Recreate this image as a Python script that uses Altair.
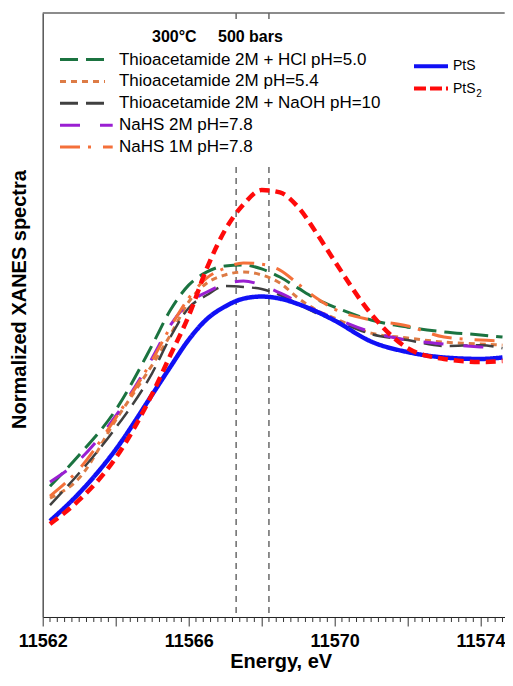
import altair as alt
import pandas as pd

# ---------------- data ----------------
energy = [11562.2, 11563, 11564, 11565, 11565.5, 11566, 11566.5, 11567, 11567.5,
          11568, 11568.5, 11569, 11569.5, 11570, 11571, 11572, 11573, 11574, 11574.6]

thio_hcl = [0.453, 0.557, 0.707, 0.923, 1.040, 1.123, 1.167, 1.187, 1.190, 1.177,
            1.150, 1.113, 1.077, 1.050, 1.007, 0.983, 0.967, 0.957, 0.950]
thio_54 = [0.413, 0.480, 0.673, 0.857, 0.957, 1.067, 1.130, 1.157, 1.167, 1.157,
           1.130, 1.080, 1.040, 1.013, 0.963, 0.947, 0.933, 0.927, 0.923]
thio_naoh = [0.390, 0.497, 0.647, 0.830, 0.950, 1.047, 1.090, 1.120, 1.117, 1.110,
             1.090, 1.060, 1.030, 1.007, 0.960, 0.940, 0.920, 0.923, 0.913]
nahs_2m = [0.467, 0.540, 0.687, 0.880, 0.990, 1.063, 1.100, 1.127, 1.137, 1.123,
           1.097, 1.067, 1.037, 1.013, 0.967, 0.940, 0.927, 0.917, 0.913]
nahs_1m = [0.420, 0.510, 0.680, 0.873, 0.983, 1.080, 1.147, 1.180, 1.197, 1.193,
           1.173, 1.127, 1.080, 1.043, 1.007, 0.987, 0.950, 0.940, 0.937]
pts = [0.337, 0.430, 0.575, 0.758, 0.851, 0.941, 1.010, 1.052, 1.078, 1.085,
       1.078, 1.060, 1.035, 1.005, 0.935, 0.900, 0.882, 0.877, 0.882]
pts2 = [0.327, 0.407, 0.547, 0.760, 0.890, 1.020, 1.180, 1.307, 1.392, 1.440,
        1.432, 1.383, 1.297, 1.203, 1.027, 0.913, 0.877, 0.867, 0.870]

series_names = ["Thioacetamide 2M + HCl pH=5.0", "Thioacetamide 2M pH=5.4",
                "Thioacetamide 2M + NaOH pH=10", "NaHS 2M pH=7.8", "NaHS 1M pH=7.8",
                "PtS", "PtS2"]
series_values = [thio_hcl, thio_54, thio_naoh, nahs_2m, nahs_1m, pts, pts2]

peak_lines = [11567.3, 11568.2]
major_ticks = [11562, 11564, 11566, 11568, 11570, 11572, 11574]
header_texts = ["300°C", "500 bars"]

# ---------------- styles ----------------
FONT = "Liberation Sans"
styles = {
    "Thioacetamide 2M + HCl pH=5.0": dict(color="#1b7340", dash=[18, 8], sw=3),
    "Thioacetamide 2M pH=5.4": dict(color="#dd7b45", dash=[6, 5], sw=3),
    "Thioacetamide 2M + NaOH pH=10": dict(color="#404040", dash=[18, 8], sw=2.5),
    "NaHS 2M pH=7.8": dict(color="#9a1fd2", dash=[20, 20], sw=3),
    "NaHS 1M pH=7.8": dict(color="#f4703a", dash=[20, 8, 3, 12], sw=3),
    "PtS": dict(color="#1010f5", dash=[1, 0], sw=4.5),
    "PtS2": dict(color="#ff0a0a", dash=[10, 6], sw=4.5),
}

W, H = 462, 604
x_min, x_max = 11562, 11574.66
y_min, y_max = 0.017, 2.03

rows = []
for name, vals in zip(series_names, series_values):
    for e, v in zip(energy, vals):
        rows.append({"series": name, "energy": e, "value": v})
df = pd.DataFrame(rows)
one = pd.DataFrame({"k": [0]})

minor = [round(x_min + 0.2 * i, 1) for i in range(65)]
minor = [m for m in minor if abs(m - round(m / 2) * 2) > 1e-6 and m <= x_max]

xscale = alt.Scale(domain=[x_min, x_max], nice=False, zero=False)
yscale = alt.Scale(domain=[y_min, y_max], nice=False, zero=False)

x_axis = alt.Axis(
    values=major_ticks, format="d",
    labelExpr="datum.value % 4 == 2 ? datum.label : ''",
    labelFont=FONT, labelFontSize=18, labelFontWeight="bold", labelColor="black",
    labelBaseline="alphabetic", labelPadding=21, labelFlush=False, labelOverlap=False,
    tickSize=9, tickColor="#333", tickWidth=1,
    domainColor="#222", domainWidth=1, grid=False,
    title="Energy, eV", titleFont=FONT, titleFontSize=20, titleFontWeight="bold",
    titleColor="black", titleX=238, titleY=51, titleBaseline="alphabetic",
    titleAlign="center", titleAnchor="start",
)
y_axis = alt.Axis(
    labels=False, ticks=False, grid=False, domainColor="#555", domainWidth=1.5,
    title="Normalized XANES spectra", titleFont=FONT, titleFontSize=20,
    titleFontWeight="bold", titleColor="black", titleAngle=270,
    titleX=-17, titleY=286, titleBaseline="alphabetic", titleAlign="center",
)


def X(field):
    return alt.X(field, scale=xscale, axis=x_axis, title="Energy, eV")


def Y(field):
    return alt.Y(field, scale=yscale, axis=y_axis, title="Normalized XANES spectra")


curve_layers = []
for name in series_names:
    st = styles[name]
    curve_layers.append(
        alt.Chart(df)
        .transform_filter(alt.datum.series == name)
        .mark_line(color=st["color"], strokeDash=st["dash"], strokeWidth=st["sw"],
                   interpolate="monotone")
        .encode(x=X("energy:Q"), y=Y("value:Q"))
    )

# vertical dashed marker lines
peaks_layer = (
    alt.Chart(pd.DataFrame({"energy": peak_lines}))
    .mark_rule(color="#444", strokeDash=[6, 5], strokeWidth=1.2)
    .encode(x=X("energy:Q"))
)
# white box behind the legend
box_layer = (
    alt.Chart(one).mark_rect(color="white")
    .encode(x=alt.value(7), x2=alt.value(337), y=alt.value(9), y2=alt.value(151))
)
layers = [peaks_layer, box_layer] + curve_layers

# minor ticks every 0.2 eV
layers.append(
    alt.Chart(pd.DataFrame({"energy": minor}))
    .mark_rule(color="#333", strokeWidth=1)
    .encode(x=X("energy:Q"), y=alt.value(H), y2=alt.value(H + 5))
)

# top border
layers.append(
    alt.Chart(one).mark_rule(color="#666", strokeWidth=1.5)
    .encode(x=alt.value(0), x2=alt.value(W), y=alt.value(0))
)

# legend header
for txt, xp in zip(header_texts, [109.3, 175.3]):
    layers.append(
        alt.Chart(one).mark_text(text=txt, font=FONT, fontSize=16, fontWeight="bold",
                                 align="left", baseline="middle", color="black")
        .encode(x=alt.value(xp), y=alt.value(23.5))
    )

# left legend block
sample_end = {"NaHS 2M pH=7.8": 70, "NaHS 1M pH=7.8": 70}
for i, name in enumerate(series_names[:5]):
    st = styles[name]
    yp = 46.5 + i * 21.9
    layers.append(
        alt.Chart(one).mark_rule(color=st["color"], strokeDash=st["dash"], strokeWidth=3)
        .encode(x=alt.value(17.3), x2=alt.value(sample_end.get(name, 62.3)), y=alt.value(yp))
    )
    layers.append(
        alt.Chart(one).mark_text(text=name, font=FONT, fontSize=17, align="left",
                                 baseline="middle", color="black")
        .encode(x=alt.value(76.3), y=alt.value(yp))
    )

# right legend block
for name, yp, dash in [("PtS", 53.2, [1, 0]), ("PtS2", 75.5, [12, 4])]:
    st = styles[name]
    layers.append(
        alt.Chart(one).mark_rule(color=st["color"], strokeDash=dash, strokeWidth=4)
        .encode(x=alt.value(371.3), x2=alt.value(405.3), y=alt.value(yp))
    )
    layers.append(
        alt.Chart(one).mark_text(text="PtS", font=FONT, fontSize=14, align="left",
                                 baseline="middle", color="black")
        .encode(x=alt.value(410.3), y=alt.value(yp))
    )
layers.append(
    alt.Chart(one).mark_text(text="2", font=FONT, fontSize=10, align="left",
                             baseline="middle", color="black")
    .encode(x=alt.value(433.5), y=alt.value(80.5))
)

chart = (
    alt.layer(*layers)
    .properties(width=W, height=H,
                padding={"left": 34.7, "top": 5, "right": 0, "bottom": 56},
                autosize=alt.AutoSizeParams(type="none"))
    .configure_view(stroke=None)
)

chart.save("out.html", embed_options={"renderer": "svg", "actions": False})
